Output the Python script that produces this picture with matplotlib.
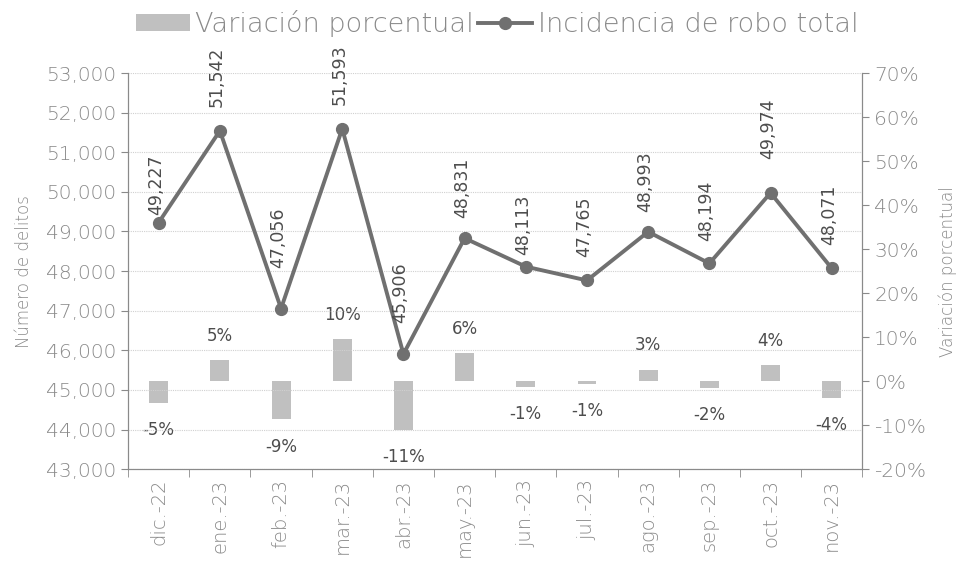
import matplotlib.pyplot as plt
import numpy as np
from matplotlib.lines import Line2D
from matplotlib.patches import Patch
from matplotlib.ticker import FuncFormatter, MultipleLocator, FixedLocator

# Datos
meses = ['dic.-22', 'ene.-23', 'feb.-23', 'mar.-23', 'abr.-23', 'may.-23',
         'jun.-23', 'jul.-23', 'ago.-23', 'sep.-23', 'oct.-23', 'nov.-23']
robo_total = [49227, 51542, 47056, 51593, 45906, 48831,
              48113, 47765, 48993, 48194, 49974, 48071]
variacion = [-0.05, 0.047, -0.087, 0.096, -0.110, 0.064,
             -0.014, -0.007, 0.026, -0.016, 0.037, -0.038]

# separacion (px) entre cada punto y su etiqueta, como en el original
sep_etiqueta = [8, 24, 41, 24, 31, 20, 12, 23, 20, 22, 34, 23]

GRIS_EJE = '#8a8a8a'
GRIS_LINEA = '#707070'
GRIS_BARRA = '#c0c0c0'
GRIS_TEXTO = '#4d4d4d'
FUENTE = 'DejaVu Sans'

fig = plt.figure(figsize=(9.56, 5.66), dpi=100)
ax = fig.add_axes([0.134, 0.171, 0.768, 0.700])
ax2 = ax.twinx()

x = np.arange(len(meses))

# Barras (eje derecho)
ax2.bar(x, variacion, width=0.31, color=GRIS_BARRA, zorder=2)
for xi, v in zip(x, variacion):
    lbl = f'{round(v * 100):.0f}%'
    dy = 11 if v >= 0 else -13
    ax2.annotate(lbl, (xi, v), xytext=(0, dy), textcoords='offset points',
                 ha='center', va='bottom' if v >= 0 else 'top',
                 fontsize=12, color=GRIS_TEXTO, family=FUENTE)

# Linea (eje izquierdo)
ax.set_zorder(ax2.get_zorder() + 1)
ax.patch.set_visible(False)
ax.plot(x, robo_total, color=GRIS_LINEA, lw=2.8, marker='o', ms=8.5, zorder=3)
for xi, v, s in zip(x, robo_total, sep_etiqueta):
    ax.annotate(f'{v:,}', (xi, v), xytext=(-2, s * 0.72),
                textcoords='offset points', ha='center', va='bottom',
                rotation=90, fontsize=12.5, color=GRIS_TEXTO, family=FUENTE,
                annotation_clip=False)

ax.set_xlim(-0.5, len(meses) - 0.5)
ax.set_ylim(43000, 53000)
ax.yaxis.set_major_locator(MultipleLocator(1000))
ax.yaxis.set_major_formatter(FuncFormatter(lambda v, p: f'{v:,.0f}'))
ax.grid(axis='y', color='#d0d0d0', lw=0.8, ls=(0, (1, 1)), zorder=0)
ax2.set_ylim(-0.20, 0.70)
ax2.yaxis.set_major_locator(MultipleLocator(0.10))
ax2.yaxis.set_major_formatter(FuncFormatter(lambda v, p: f'{v * 100:.0f}%'))

ax.set_xticks(x)
ax.set_xticklabels(meses, rotation=90)
ax.xaxis.set_minor_locator(FixedLocator(np.arange(-0.5, len(meses), 1)))
ax.tick_params(axis='x', which='major', length=0, pad=7)
ax.tick_params(axis='x', which='minor', length=6, color=GRIS_EJE)

for a in (ax, ax2):
    for s in a.spines.values():
        s.set_color(GRIS_EJE)
    a.spines['top'].set_visible(False)
    a.tick_params(axis='y', length=5, color=GRIS_EJE, labelcolor=GRIS_EJE,
                  labelsize=14.5)
    for t in a.get_yticklabels():
        t.set_family(FUENTE)
        t.set_fontweight('light')
for t in ax.get_xticklabels():
    t.set_family(FUENTE)
    t.set_fontweight('light')
    t.set_color(GRIS_EJE)
    t.set_fontsize(14)

ax.set_ylabel('Número de delitos', color=GRIS_EJE, fontsize=12,
              family=FUENTE, fontweight='light', labelpad=9)
ax2.set_ylabel('Variación porcentual', color=GRIS_EJE, fontsize=12,
               family=FUENTE, fontweight='light', rotation=90, labelpad=9)

# Leyenda
handles = [Patch(facecolor=GRIS_BARRA, edgecolor='none'),
           Line2D([0], [0], color=GRIS_LINEA, lw=2.8, marker='o', ms=8.5)]
leg = fig.legend(handles, ['Variación porcentual', 'Incidencia de robo total'],
                 loc='upper center', bbox_to_anchor=(0.52, 1.025), ncol=2,
                 frameon=False, handlelength=2.0, handleheight=0.6,
                 columnspacing=0.15, handletextpad=0.2,
                 prop={'family': FUENTE, 'weight': 'light', 'size': 19.5})
for t in leg.get_texts():
    t.set_color(GRIS_EJE)

fig.savefig('out.png', dpi=100, facecolor='white')
